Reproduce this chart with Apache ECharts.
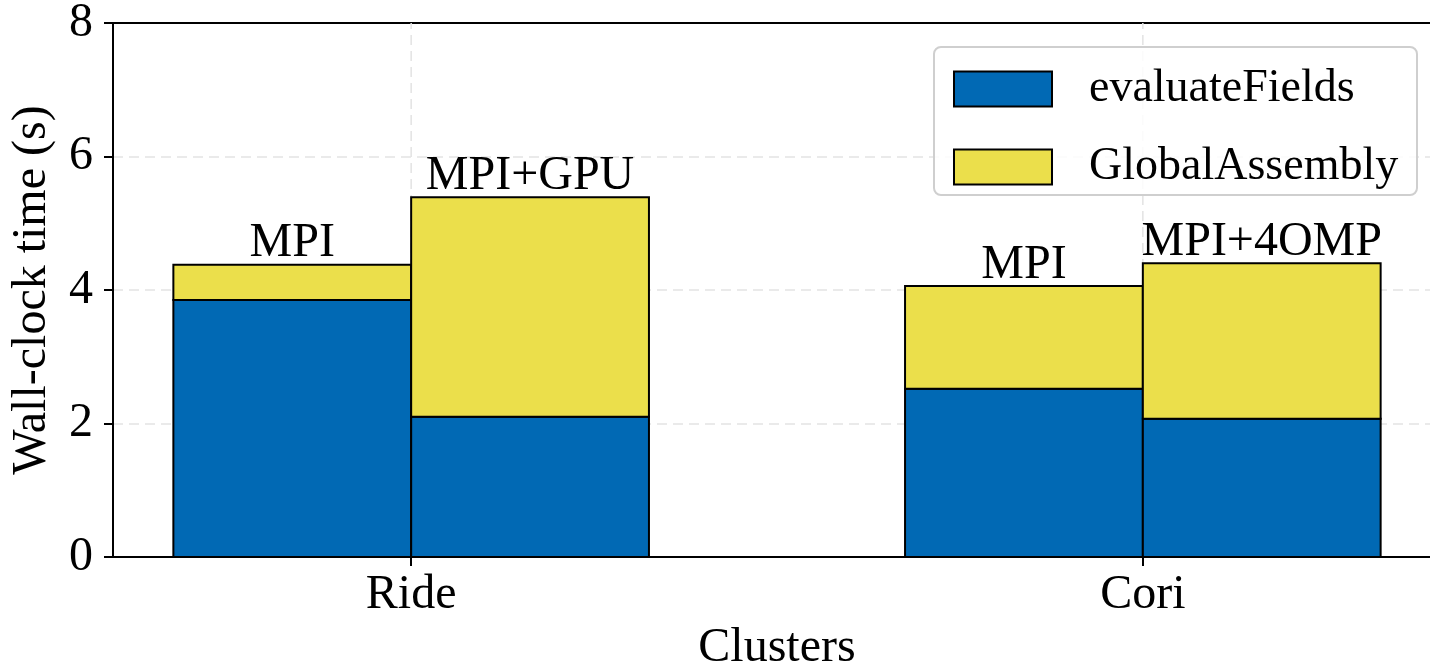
<!DOCTYPE html>
<html>
<head>
<meta charset="utf-8">
<script src="https://cdn.jsdelivr.net/npm/echarts@6/dist/echarts.min.js"></script>
<style>
  html, body { margin: 0; padding: 0; background: #fff; }
  #chart { width: 1430px; height: 664px; }
</style>
</head>
<body>
<div id="chart"></div>
<script>
// ---- data ----
const clusters = ['Ride', 'Cori'];
const clusterPositions = [0, 1];
const configNames = ['MPI', 'MPI+GPU', 'MPI', 'MPI+4OMP'];
const barCluster = [0, 0, 1, 1];   // which cluster each bar belongs to
const barSlot = [0, 1, 0, 1];      // position of the bar inside its cluster
const evaluateFields = [3.85, 2.10, 2.52, 2.07];
const globalAssembly = [0.53, 3.29, 1.54, 2.33];
const yTicks = [0, 2, 4, 6, 8];

// ---- styling ----
const FONT = '"Liberation Serif", "Times New Roman", serif';
const BLUE = '#0169b4';
const YELLOW = '#ebdf4b';
const BAR_W = 0.325;
const GRID_COLOR = '#e3e3e3';

const chart = echarts.init(document.getElementById('chart'), null, { renderer: 'canvas' });

function makeRender(color, withLabel) {
  return function (params, api) {
    const i = params.dataIndex;
    const cx = api.value(0) + (api.value(1) - 0.5) * BAR_W;
    const p0 = api.coord([cx - BAR_W / 2, api.value(2)]);
    const p1 = api.coord([cx + BAR_W / 2, api.value(3)]);
    const children = [{
      type: 'rect',
      shape: { x: p0[0], y: p1[1], width: p1[0] - p0[0], height: p0[1] - p1[1] },
      style: { fill: color, stroke: '#000', lineWidth: 2 }
    }];
    if (withLabel) {
      children.push({
        type: 'text',
        x: (p0[0] + p1[0]) / 2,
        y: p1[1] + 3,
        style: {
          text: configNames[i], fill: '#000', fontSize: 48, fontFamily: FONT,
          align: 'center', verticalAlign: 'bottom'
        }
      });
    }
    return { type: 'group', children };
  };
}

// vertical dashed grid lines at the cluster ticks
function renderVGrid(params, api) {
  const a = api.coord([api.value(0), yTicks[0]]);
  const b = api.coord([api.value(0), yTicks[yTicks.length - 1]]);
  return {
    type: 'line',
    shape: { x1: a[0], y1: a[1], x2: b[0], y2: b[1] },
    style: { stroke: GRID_COLOR, lineWidth: 1.5, lineDash: [10, 6] }
  };
}

const evalData = evaluateFields.map((v, i) => [barCluster[i], barSlot[i], 0, v]);
const gaData = globalAssembly.map((v, i) => [barCluster[i], barSlot[i], evaluateFields[i], evaluateFields[i] + v]);

const option = {
  animation: false,
  backgroundColor: '#fff',
  grid: {
    left: 113, top: 23, width: 1328, height: 534,
    outerBoundsMode: 'none', containLabel: false,
    show: true, borderColor: '#000', borderWidth: 2, backgroundColor: 'transparent'
  },
  xAxis: {
    type: 'value',
    min: -0.4075, max: 1.4075,
    name: 'Clusters',
    nameLocation: 'middle',
    nameGap: 64,
    nameTextStyle: { fontSize: 48, fontFamily: FONT, color: '#000' },
    axisLine: { show: true, onZero: false, lineStyle: { color: '#000', width: 2 } },
    axisTick: { show: true, length: 9, customValues: clusterPositions, lineStyle: { color: '#000', width: 2 } },
    axisLabel: {
      customValues: clusterPositions,
      formatter: v => clusters[Math.round(v)],
      fontSize: 48, fontFamily: FONT, color: '#000', margin: 14
    },
    splitLine: { show: false }
  },
  yAxis: {
    type: 'value',
    min: 0, max: 8, interval: 2,
    name: 'Wall-clock time (s)',
    nameLocation: 'middle',
    nameGap: 57,
    nameTextStyle: { fontSize: 48, fontFamily: FONT, color: '#000' },
    axisLine: { show: true, onZero: false, lineStyle: { color: '#000', width: 2 } },
    axisTick: { show: true, length: 9, lineStyle: { color: '#000', width: 2 } },
    axisLabel: {
      fontSize: 48, fontFamily: FONT, color: '#000', margin: 20,
      formatter: v => (yTicks.indexOf(v) >= 0 ? String(v) : '')
    },
    splitLine: {
      show: true, showMinLine: false, showMaxLine: false,
      lineStyle: { color: GRID_COLOR, width: 1.5, type: [10, 6] }
    }
  },
  graphic: [{
    type: 'rect', z: 3,
    shape: { x: 934, y: 47, width: 483, height: 148, r: 7 },
    style: { fill: 'rgba(255,255,255,0.85)', stroke: '#cfcfcf', lineWidth: 2 }
  }],
  legend: {
    orient: 'vertical',
    left: 953, top: 66,
    padding: 0,
    itemWidth: 98, itemHeight: 35, itemGap: 32,
    icon: 'rect',
    z: 5,
    data: [
      { name: 'evaluateFields', itemStyle: { color: BLUE, borderColor: '#000', borderWidth: 2 } },
      { name: 'GlobalAssembly', itemStyle: { color: YELLOW, borderColor: '#000', borderWidth: 2 } }
    ],
    textStyle: { fontSize: 46, fontFamily: FONT, color: '#000', lineHeight: 35, padding: [0, 0, 0, 32] }
  },
  series: [
    {
      name: 'vgrid', type: 'custom', renderItem: renderVGrid, silent: true, z: 1,
      encode: { x: 0 }, data: clusterPositions.map(p => [p])
    },
    {
      name: 'evaluateFields', type: 'custom', renderItem: makeRender(BLUE, false), z: 2,
      itemStyle: { color: BLUE }, encode: { x: 0, y: [2, 3] }, data: evalData
    },
    {
      name: 'GlobalAssembly', type: 'custom', renderItem: makeRender(YELLOW, true), z: 2,
      itemStyle: { color: YELLOW }, encode: { x: 0, y: [2, 3] }, data: gaData
    }
  ]
};
chart.setOption(option);
</script>
</body>
</html>
